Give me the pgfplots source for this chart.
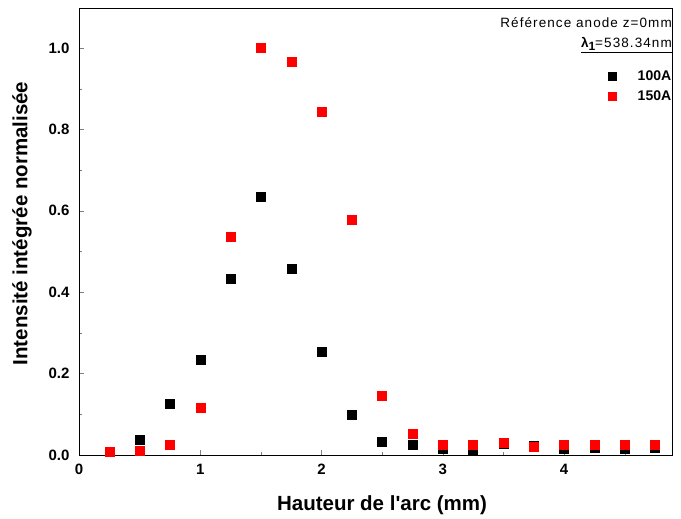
\documentclass[border=0pt]{standalone}
\usepackage{pgfplots}
\pgfplotsset{compat=1.18}
\usepackage{fontspec}
\setmainfont{Liberation Sans}
\newfontfamily\legfont[LetterSpace=8]{Liberation Sans}
\begin{document}
\begin{tikzpicture}
\path[use as bounding box] (-79bp,-64bp) rectangle (602bp,455bp);
\begin{axis}[
  at={(0,0)}, anchor=south west,
  scale only axis, width=593bp, height=447bp,
  xmin=0, xmax=4.89, ymin=0, ymax=1.098,
  xtick={0,1,2,3,4}, minor xtick={0.5,1.5,2.5,3.5,4.5},
  ytick={0,0.2,0.4,0.6,0.8,1.0}, minor ytick={0.1,0.3,0.5,0.7,0.9},
  xtick pos=bottom, ytick pos=left, tick align=inside,
  major tick length=5bp, minor tick length=3bp,
  /pgf/number format/assume math mode=true,
  yticklabel style={/pgf/number format/fixed, /pgf/number format/fixed zerofill, /pgf/number format/precision=1, xshift=-6bp},
  ticklabel style={font=\fontsize{15bp}{17bp}\selectfont\bfseries},
  xticklabel style={yshift=-6bp},
  xlabel={Hauteur de l\textquotesingle arc (mm)},
  ylabel={Intensité intégrée normalisée},
  label style={font=\fontsize{20.5bp}{24bp}\selectfont\bfseries},
  xlabel style={at={(axis description cs:0.511,-0.112)}, anchor=center},
  ylabel style={at={(axis description cs:-0.096,0.518)}, anchor=center},
  legend style={draw=none, fill=none, at={(rel axis cs:0.999,0.861)}, anchor=north east,
    inner sep=0pt, nodes={inner sep=0pt},
    font=\fontsize{14bp}{16bp}\selectfont\bfseries, row sep=9bp,
    /tikz/every odd column/.append style={column sep=22bp}},
  legend cell align=left,
  legend image post style={mark size=4bp},
]
\addplot[only marks, mark=square*, mark size=4.5bp, color=black] coordinates {
(0.25,0.007) (0.5,0.037) (0.75,0.125) (1.0,0.233) (1.25,0.432) (1.5,0.634)
(1.75,0.457) (2.0,0.253) (2.25,0.098) (2.5,0.032) (2.75,0.025) (3.0,0.015)
(3.25,0.012) (3.5,0.027) (3.75,0.022) (4.0,0.015) (4.25,0.017) (4.5,0.015) (4.75,0.017)};
\addlegendentry{100A}
\addplot[only marks, mark=square*, mark size=4.5bp, color=red] coordinates {
(0.25,0.007) (0.5,0.010) (0.75,0.025) (1.0,0.115) (1.25,0.536) (1.5,1.0)
(1.75,0.966) (2.0,0.843) (2.25,0.577) (2.5,0.145) (2.75,0.052) (3.0,0.025)
(3.25,0.025) (3.5,0.030) (3.75,0.020) (4.0,0.025) (4.25,0.025) (4.5,0.025) (4.75,0.025)};
\addlegendentry{150A}
\node[anchor=east, inner sep=0pt, font=\fontsize{13.5bp}{16bp}\legfont] at (rel axis cs:1.0,0.968) {Référence anode z=0mm};
\node[anchor=east, inner sep=0pt, font=\fontsize{13.5bp}{16bp}\legfont] at (rel axis cs:1.0,0.917) {\underline{\textbf{λ\raisebox{-0.35ex}{\fontsize{12bp}{14bp}\selectfont 1}}=538.34nm}};
\end{axis}
\end{tikzpicture}
\end{document}
